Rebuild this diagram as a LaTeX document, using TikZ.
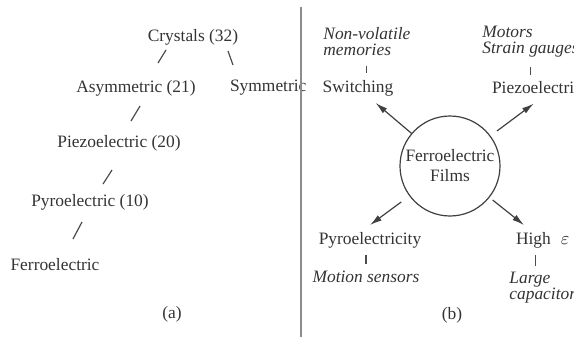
\documentclass[tikz,border=0pt]{standalone}
\usepackage{fontspec}
\setmainfont{Liberation Serif}
\usetikzlibrary{calc,arrows.meta}

\tikzset{
  branch/.style={draw=black!70, line width=0.6pt},
  arr/.style={draw=black!75, line width=0.6pt, -{Latex[length=6pt,width=3.2pt]}},
  app/.style={font=\fontsize{8.7}{8}\selectfont\itshape, align=left, anchor=west, inner sep=0pt}
}

\begin{document}
\begin{tikzpicture}[x=0.5pt,y=-0.5pt, font=\fontsize{8.7}{10}\selectfont, text=black!80]
  \useasboundingbox (0,0) rectangle (574,337);
  \clip (0,0) rectangle (574,337);
  % (a) classes of crystals
  \node (crys) at (193,37) {Crystals (32)};
  \node (asym) at (136,88) {Asymmetric (21)};
  \node[anchor=west] (sym) at (223,88) {Symmetric};
  \node (piezo) at (119,143) {Piezoelectric (20)};
  \node (pyro) at (90,202) {Pyroelectric (10)};
  \node (ferro) at (55,265) {Ferroelectric};
  \draw[branch] ($(crys)+(-27,13)$) -- ($(asym)+(22,-25)$);
  \draw[branch] ($(crys)+(35,14)$) -- ($(sym.west)+(10,-23)$);
  \draw[branch] ($(asym)+(4,18)$) -- ($(piezo)+(12,-22)$);
  \draw[branch] ($(piezo)+(-7,27)$) -- ($(pyro)+(13,-18)$);
  \draw[branch] ($(pyro)+(-8,20)$) -- ($(ferro)+(18,-26)$);
  \node (capa) at (172,314) {(a)};
  \draw[draw=black!45, line width=1pt] (301,7) -- (301,337);
  % (b) uses of ferroelectric films
  \node[circle, draw=black!75, line width=0.6pt, minimum size=50pt,
        inner sep=0pt, align=center] (film) at (450,166) {Ferroelectric\\Films};
  \node[app] (nvm) at (323,41.5) {Non-volatile\\memories};
  \node (switch) at (358,88) {Switching};
  \node[app] (motor) at (482,41.5) {Motors\\Strain gauges};
  \node[anchor=west] (piezo2) at (485,88) {Piezoelectric};
  \node (pyroy) at (370,240) {Pyroelectricity};
  \node[font=\fontsize{8.7}{10}\selectfont\itshape] (motion) at (366,277) {Motion sensors};
  \node[anchor=west] (highe) at (509,240) {High\hspace{5pt}$\varepsilon$};
  \node[app] (large) at (509,287.5) {Large\\capacitors};
  \draw[branch, shorten <=5pt] (nvm.south) -- (nvm.south |- switch.north);
  \draw[branch, shorten <=5pt] (motor.south) -- (motor.south |- piezo2.north);
  \draw[branch] (motion.north |- pyroy.south) -- (motion.north);
  \coordinate (hbar) at ($(highe.south)+(-7,0)$);
  \draw[branch, shorten >=3pt] (hbar) -- (hbar |- large.north);
  \draw[arr] (film) -- (switch);
  \draw[arr, shorten <=4pt, shorten >=2pt] (film) -- (piezo2.south);
  \draw[arr, shorten <=5pt] (film) -- (pyroy.north);
  \draw[arr, shorten <=2pt] (film) -- (highe);
  \node (capb) at (452,315) {(b)};
\end{tikzpicture}
\end{document}
